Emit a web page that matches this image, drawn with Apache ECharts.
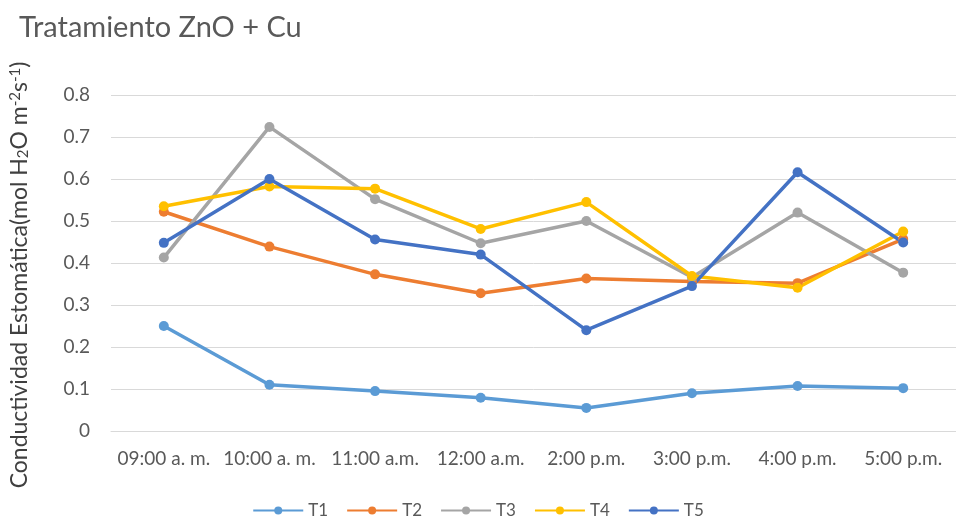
<!DOCTYPE html>
<html>
<head>
<meta charset="utf-8">
<script src="https://cdn.jsdelivr.net/npm/echarts@6/dist/echarts.min.js"></script>
<style>
  html, body { margin: 0; padding: 0; background: #fff; }
  #chart { width: 956px; height: 522px; }
</style>
</head>
<body>
<div id="chart"></div>
<script>
// categorias (hora)
const horas = ['09:00 a. m.', '10:00 a. m.', '11:00 a.m.', '12:00 a.m.', '2:00 p.m.', '3:00 p.m.', '4:00 p.m.', '5:00 p.m.'];
// tratamientos
const t1 = [0.25, 0.11, 0.095, 0.079, 0.055, 0.09, 0.107, 0.102];
const t2 = [0.522, 0.439, 0.373, 0.328, 0.363, 0.356, 0.352, 0.457];
const t3 = [0.413, 0.724, 0.552, 0.447, 0.5, 0.366, 0.52, 0.377];
const t4 = [0.535, 0.582, 0.577, 0.481, 0.545, 0.369, 0.341, 0.475];
const t5 = [0.448, 0.6, 0.456, 0.42, 0.24, 0.345, 0.616, 0.449];
const yTicks = [0, 0.1, 0.2, 0.3, 0.4, 0.5, 0.6, 0.7, 0.8];

const colores = ['#5B9BD5', '#ED7D31', '#A5A5A5', '#FFC000', '#4472C4'];
const nombres = ['T1', 'T2', 'T3', 'T4', 'T5'];
const datos = [t1, t2, t3, t4, t5];

const chart = echarts.init(document.getElementById('chart'));
const font = 'Lato, "Open Sans", sans-serif';

const series = datos.map((d, i) => ({
  name: nombres[i],
  type: 'line',
  data: d,
  symbol: 'circle',
  symbolSize: 10,
  color: colores[i],
  lineStyle: { width: 3.5, color: colores[i] },
  itemStyle: { color: colores[i] },
  emphasis: { disabled: true },
  animation: false
}));

chart.setOption({
  backgroundColor: '#fff',
  textStyle: { fontFamily: font },
  title: {
    text: 'Tratamiento ZnO + Cu',
    left: 14,
    top: 8,
    textStyle: { fontFamily: font, fontSize: 29, fontWeight: 'normal', color: '#595959' }
  },
  legend: {
    bottom: 3,
    left: 'center',
    padding: 0,
    itemWidth: 50,
    itemHeight: 10,
    itemGap: 18,
    textStyle: { fontFamily: font, fontSize: 17, color: '#595959' },
    data: nombres
  },
  grid: { left: 106, top: 95, width: 862, height: 336, containLabel: false },
  xAxis: {
    type: 'category',
    data: horas,
    boundaryGap: true,
    axisLine: { show: true, lineStyle: { color: '#d9d9d9', width: 1 } },
    axisTick: { show: false },
    axisLabel: { interval: 0, color: '#595959', fontSize: 19, margin: 18, fontFamily: font }
  },
  yAxis: {
    type: 'value',
    min: yTicks[0],
    max: yTicks[yTicks.length - 1],
    interval: 0.1,
    axisLine: { show: false },
    axisTick: { show: false },
    axisLabel: { color: '#595959', fontSize: 19, margin: 21, fontFamily: font },
    splitLine: { lineStyle: { color: '#d9d9d9', width: 1 } },
    name: 'Conductividad Estomática(mol H{sub|2}O m{sup|-2}s{sup|-1})',
    nameLocation: 'middle',
    nameGap: 80,
    nameTextStyle: {
      color: '#404040', fontSize: 23, fontFamily: font, padding: [0, 24, 0, 0],
      rich: {
        sub: { fontSize: 15, color: '#404040', verticalAlign: 'bottom', padding: [8, 0, 0, 0] },
        sup: { fontSize: 15, color: '#404040', verticalAlign: 'top', padding: [0, 0, 8, 0] }
      }
    }
  },
  series: series
});
</script>
</body>
</html>
